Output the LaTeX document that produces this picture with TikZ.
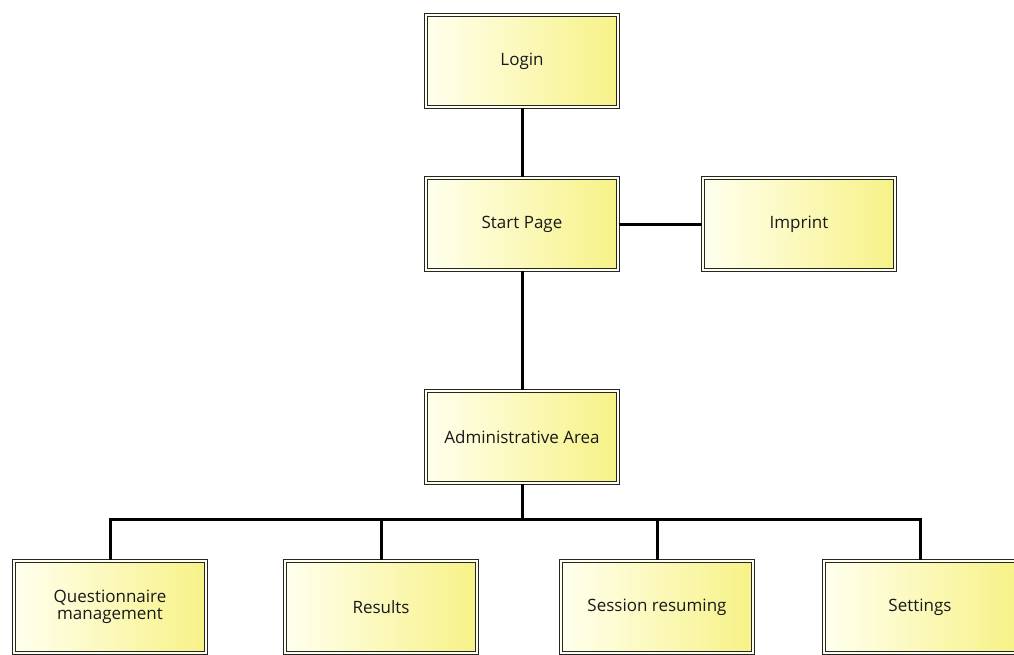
\documentclass[tikz,border=0pt]{standalone}
\usepackage{fontspec}
\setmainfont{Open Sans}
\usetikzlibrary{positioning}

\definecolor{palecream}{RGB}{255,255,238}
\definecolor{pageyellow}{RGB}{247,242,135}

\begin{document}
\begin{tikzpicture}[x=1pt, y=-1pt, on grid,
  page/.style={draw=black!85, double=palecream, double distance=2pt, line width=1.4pt,
    left color=palecream, right color=pageyellow, minimum width=192pt, minimum height=92pt,
    align=center, font=\fontsize{17}{17.5}\selectfont, text=black!90},
  link/.style={line width=3pt, black}]
  \useasboundingbox (0,0) rectangle (1014,655);
  \clip (0,0) rectangle (1014,655);

  % Seitenstruktur oben
  \node[page] (login) at (522,61) {Login};
  \node[page, below=163pt of login] (startpage) {Start Page};
  \node[page, right=277pt of startpage] (imprint) {Imprint};
  \node[page, below=213pt of startpage] (admin) {Administrative Area};

  % Unterseiten des Verwaltungsbereichs
  \coordinate[below=82pt of admin] (bus);
  \node[page, below=170pt of admin, xshift=-412pt] (quest) {Questionnaire\\management};
  \node[page, below=170pt of admin, xshift=-141pt] (results) {Results};
  \node[page, below=170pt of admin, xshift=135pt] (session) {Session resuming};
  \node[page, below=170pt of admin, xshift=398pt] (settings) {Settings};

  % Verbindungen
  \draw[link] (login) -- (startpage);
  \draw[link] (startpage) -- (imprint);
  \draw[link] (startpage) -- (admin);
  \draw[link] (admin.south) -- (bus);
  \draw[link] (bus) -| (quest.north);
  \draw[link] (bus) -| (results.north);
  \draw[link] (bus) -| (session.north);
  \draw[link] (bus) -| (settings.north);
\end{tikzpicture}
\end{document}
